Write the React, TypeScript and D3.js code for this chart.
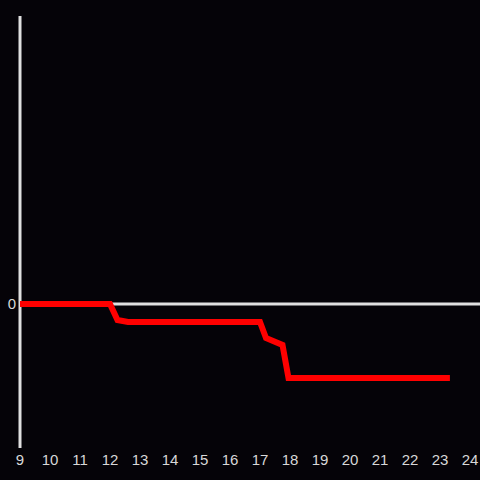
import React from "react";
import * as d3 from "d3";

const xs = [9, 12, 12.25, 12.6, 17, 17.2, 17.75, 17.95, 23.33];
const ys = [0, 0, -16, -18, -18, -34, -41, -74, -74];
const xTicks = [9, 10, 11, 12, 13, 14, 15, 16, 17, 18, 19, 20, 21, 22, 23, 24];
const yTicks = [0];

export default function App() {
  const W = 480, H = 480;
  const x = d3.scaleLinear().domain([9, 24]).range([20, 470]);
  const y = d3.scaleLinear().domain([-144, 288]).range([448, 16]);
  const pts = xs.map((v, i) => [v, ys[i]] as [number, number]);
  const line = d3.line<[number, number]>().x(d => x(d[0])).y(d => y(d[1]));
  return (
    <svg width={W} height={H} style={{ position: "fixed", left: 0, top: 0, display: "block" }}
      fontFamily="'Liberation Sans', Arial, sans-serif">
      <rect width={W} height={H} fill="#050308" />
      <line x1={x(9)} x2={W} y1={y(0)} y2={y(0)} stroke="#e0e0e0" strokeWidth={3} />
      <line x1={x(9)} x2={x(9)} y1={16} y2={448} stroke="#e0e0e0" strokeWidth={3} />
      {xTicks.map(t => (
        <text key={t} x={x(t)} y={461} fill="#d8d8d8" fontSize={15} textAnchor="middle" dominantBaseline="middle">{t}</text>
      ))}
      {yTicks.map(t => (
        <text key={t} x={16} y={y(t) + 1} fill="#d8d8d8" fontSize={15} textAnchor="end" dominantBaseline="middle">{t}</text>
      ))}
      <path d={line(pts) || ""} fill="none" stroke="#ff0000" strokeWidth={6} strokeLinejoin="miter" />
    </svg>
  );
}
